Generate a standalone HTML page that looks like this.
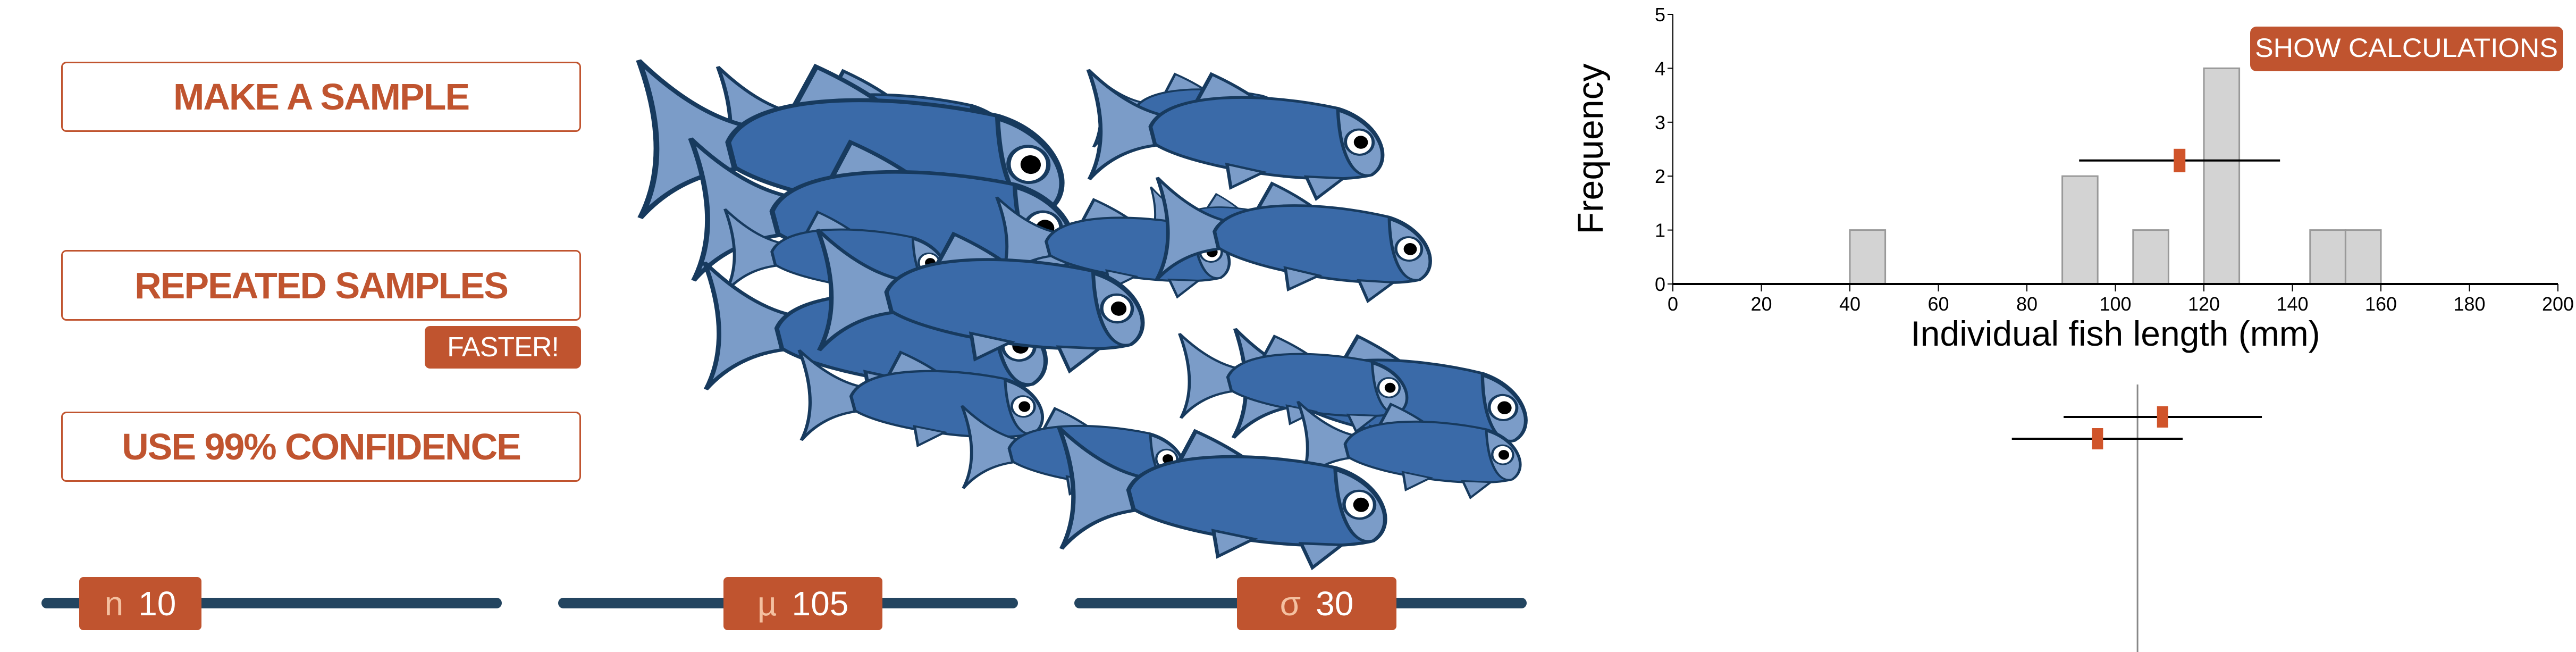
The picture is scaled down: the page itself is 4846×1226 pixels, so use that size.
<!DOCTYPE html>
<html><head><meta charset="utf-8"><style>
body{margin:0;width:4846px;height:1226px;overflow:hidden;background:#fff;font-family:"Liberation Sans",sans-serif;position:relative}
.btn{position:absolute;box-sizing:border-box;border:3px solid #c0542f;border-radius:10px;background:#fff;color:#c0542f;font-weight:bold;font-size:70px;display:flex;align-items:center;justify-content:center;letter-spacing:-2px}
.fbtn{position:absolute;background:#c0542f;color:#fff;border-radius:10px;display:flex;align-items:center;justify-content:center;letter-spacing:-1px}
.track{position:absolute;height:20px;background:#234560;border-radius:10px;top:1124px}
.handle{position:absolute;top:1085px;height:100px;background:#c0542f;border-radius:8px;color:#fff;font-size:64px;display:flex;align-items:center;justify-content:center}
.handle span{color:#f4c0a0;margin-right:28px}
svg{position:absolute;left:0;top:0}
</style></head><body>
<div class="btn" style="left:115px;top:116px;width:978px;height:132px">MAKE A SAMPLE</div>
<div class="btn" style="left:115px;top:470px;width:978px;height:133px">REPEATED SAMPLES</div>
<div class="fbtn" style="left:799px;top:613px;width:294px;height:80px;font-size:52px">FASTER!</div>
<div class="btn" style="left:115px;top:774px;width:978px;height:132px">USE 99% CONFIDENCE</div>

<div class="track" style="left:78px;width:866px"></div>
<div class="track" style="left:1050px;width:865px"></div>
<div class="track" style="left:2021px;width:851px"></div>
<div class="handle" style="left:149px;width:230px"><span>n</span>10</div>
<div class="handle" style="left:1361px;width:299px"><span>µ</span>105</div>
<div class="handle" style="left:2327px;width:300px"><span>σ</span>30</div>

<svg id="fishsvg" width="4846" height="1226">
<defs>
<g id="fish">
<path d="M2,-24 Q16,-8 28,-6 L28,8 Q14,12 6,28 Q12,6 2,-24 Z" fill="#7b9cc8" stroke="#173a5e" stroke-width="1.3"/>
<path d="M38,-14 L42,-28 Q54,-22 62,-14 Z" fill="#7b9cc8" stroke="#173a5e" stroke-width="1.3"/>
<path d="M24,0 C28,-18 60,-22 84,-18 C98,-14 104,4 97,12 C82,20 40,18 26,8 Z" fill="#3a6aa8" stroke="#173a5e" stroke-width="1.3"/>
<path d="M84,-17 C98,-13 104,4 97,12 C91,15 86,3 84,-17 Z" fill="#7b9cc8" stroke="#173a5e" stroke-width="1.1"/>
<path d="M50,14 L52,25 L62,16 Z" fill="#7b9cc8" stroke="#173a5e" stroke-width="1.1"/>
<path d="M76,16 L80,26 L88,15 Z" fill="#7b9cc8" stroke="#173a5e" stroke-width="1.1"/>
<ellipse cx="92" cy="-3" rx="4.5" ry="6" fill="#fff" stroke="#173a5e" stroke-width="1"/>
<ellipse cx="92.5" cy="-3" rx="2.3" ry="3.1" fill="#000"/>
</g>
</defs>
</svg>

<svg id="chart" width="4846" height="1226"></svg>

<script>
// fish placement (tailX, tailY, eyeX, eyeY)
const fishTail=[[2040,220],[1329,240],[1171,267],[2026,244],[2150,420],[1273,401],[1859,464],[2156,440],[1348,483],[1301,621],[1515,554],[2300,730],[2203,719],[1487,755],[2426,845],[1794,853],[1970,927]];
const fishEye=[[2400,250],[1868,295],[1933,346],[2556,299],[2430,470],[1961,464],[2277,503],[2649,499],[1747,523],[1915,684],[2100,613],[2826,798],[2612,758],[1924,794],[2826,884],[2194,892],[2556,982]];
const fs=document.getElementById('fishsvg');
fishTail.forEach((t,i)=>{
  const e=fishEye[i];const dx=e[0]-t[0],dy=e[1]-t[1];
  const s=Math.hypot(dx,dy)/92;const a=Math.atan2(dy,dx)*180/Math.PI;
  const u=document.createElementNS('http://www.w3.org/2000/svg','use');
  u.setAttribute('href','#fish');
  u.setAttribute('transform',`translate(${t[0]},${t[1]-20}) rotate(${a}) scale(${s},${s*0.68})`);
  
  
  fs.appendChild(u);
});
</script>
<script>
const binStarts=[40,88,104,120,144,152];
const binCounts=[1,2,1,4,1,1];
const binWidth=8;
const xTicks=[0,20,40,60,80,100,120,140,160,180,200];
const yTicks=[0,1,2,3,4,5];
const sampleMean=114.5, ciLow=91.8, ciHigh=137.2, ciYLevel=2.29;
const popMean=105;
const ciLows=[88.3,76.6];
const ciHighs=[133.1,115.2];
const ciMeans=[110.6,95.9];

const NS='http://www.w3.org/2000/svg';
const svg=document.getElementById('chart');
const X=v=>3147+(v-0)*(4812-3147)/200;
const Y=v=>534-v*(534-27)/5;
function el(t,a,txt){const e=document.createElementNS(NS,t);for(const k in a)e.setAttribute(k,a[k]);if(txt!==undefined)e.textContent=txt;svg.appendChild(e);return e;}

binStarts.forEach((b,i)=>{
  const r=el('rect',{x:X(b),y:Y(binCounts[i]),width:X(b+binWidth)-X(b),height:Y(0)-Y(binCounts[i]),fill:'#d3d3d3',stroke:'#999','stroke-width':3});
  
  
});
let ax=el('line',{x1:X(0),y1:Y(0),x2:X(200),y2:Y(0),stroke:'#000','stroke-width':4});

let ay=el('line',{x1:X(0),y1:Y(0),x2:X(0),y2:Y(5),stroke:'#000','stroke-width':2});

xTicks.forEach(v=>{
  el('line',{x1:X(v),y1:Y(0),x2:X(v),y2:Y(0)+14,stroke:'#000','stroke-width':2});
  const t=el('text',{x:X(v),y:Y(0)+50,'text-anchor':'middle','font-size':36,fill:'#000'},String(v));
  
});
yTicks.forEach(v=>{
  el('line',{x1:X(0)-10,y1:Y(v),x2:X(0),y2:Y(v),stroke:'#000','stroke-width':2});
  const t=el('text',{x:X(0)-14,y:Y(v)+13,'text-anchor':'end','font-size':36,fill:'#000'},String(v));
  
});
let xt=el('text',{x:X(100),y:650,'text-anchor':'middle','font-size':66,fill:'#000'},'Individual fish length (mm)');

let yt=el('text',{x:3015,y:280,'text-anchor':'middle','font-size':68,fill:'#000',transform:'rotate(-90 3015 280)'},'Frequency');


let cl=el('line',{x1:X(ciLow),y1:Y(ciYLevel),x2:X(ciHigh),y2:Y(ciYLevel),stroke:'#000','stroke-width':4});

let mm=el('rect',{x:X(sampleMean)-11,y:Y(ciYLevel)-22,width:22,height:44,fill:'#d0542a'});


// bottom panel
let pm=el('line',{x1:X(popMean),y1:723,x2:X(popMean),y2:1226,stroke:'#888','stroke-width':3});

ciLows.forEach((lo,i)=>{
  const yy=784+41*i;
  const l=el('line',{x1:X(lo),y1:yy,x2:X(ciHighs[i]),y2:yy,stroke:'#000','stroke-width':4});
  
  const m=el('rect',{x:X(ciMeans[i])-10,y:yy-20,width:21,height:40,fill:'#d0542a'});
  
});

// show calculations button
let b=el('rect',{x:4233,y:50,width:589,height:84,rx:12,fill:'#c0542f'});

let bt=el('text',{x:4527,y:107,'text-anchor':'middle','font-size':50,fill:'#fff',textLength:570,lengthAdjust:'spacingAndGlyphs'},'SHOW CALCULATIONS');

</script>
</body></html>
